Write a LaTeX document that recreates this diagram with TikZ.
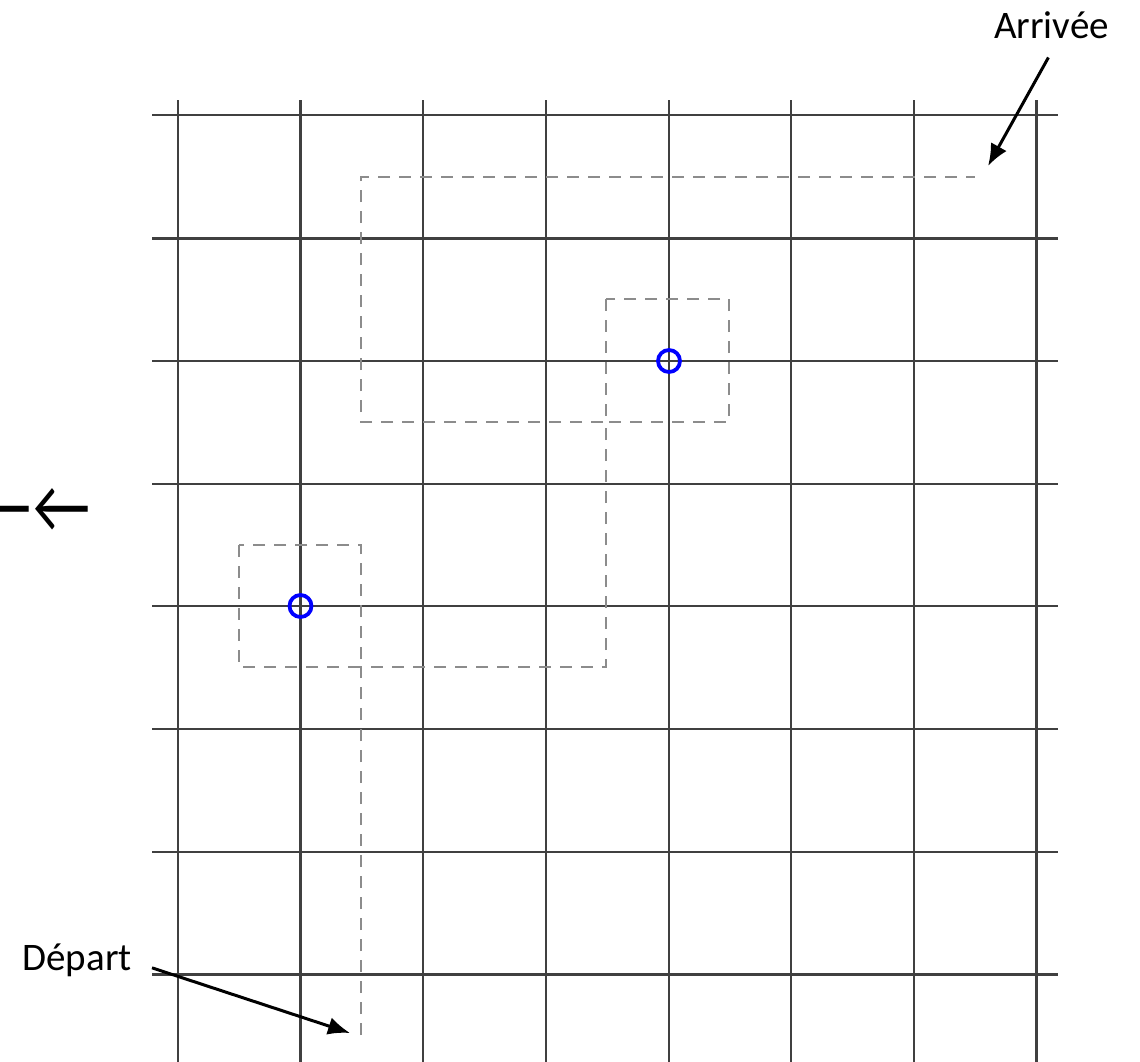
\documentclass[tikz,border=0pt]{standalone}
\usepackage{fontspec}
\setmainfont{Carlito}
\usetikzlibrary{arrows.meta}
\begin{document}
\begin{tikzpicture}[x=1pt,y=-1pt,
  gridline/.style={draw=black!75,line width=2.6pt},
  pathline/.style={draw=black!45,line width=2pt,dash pattern=on 12pt off 9pt},
  marker/.style={draw=blue,line width=3.8pt,circle,minimum size=22pt,inner sep=0pt},
  pointer/.style={draw=black,line width=3pt,-{Latex[length=22pt,width=18pt]}},
  lbl/.style={font=\fontsize{39}{47}\selectfont,inner sep=0pt}]
\useasboundingbox (0,0) rectangle (1140,1061);
% grid
\foreach \x in {178,300.5,423,546,669,791,914,1036.5}
  \draw[gridline] (\x,100) -- (\x,1075);
\foreach \y in {115,238.5,361,484,606,729,852,974.5}
  \draw[gridline] (152,\y) -- (1058,\y);
% dashed route
\draw[pathline] (361,1035) -- (361,667) -- (606,667) -- (606,422) -- (361,422) -- (361,177) -- (975,177);
\draw[pathline] (239,545) rectangle (361,667);
\draw[pathline] (606,299) rectangle (729,422);
% markers
\node[marker] (m1) at (300.5,606) {};
\node[marker] (m2) at (669,361) {};
% labels
\node[lbl,anchor=base east] (dep) at (132,970) {Départ};
\node[lbl,anchor=base east] (arr) at (1109,38) {Arrivée};
\coordinate (depT) at (350,1033);
\coordinate (arrT) at (988,166);
\draw[pointer] ([shift={(20,8)}]dep.east) -- (depT);
\draw[pointer] ([shift={(-3,19)}]arr.south) -- (arrT);
% left arrows
\node[inner sep=0pt,anchor=east,yscale=1.22,font=\fontsize{63}{72}\selectfont] (la) at (91,511) {←\kern2pt←};
\end{tikzpicture}
\end{document}
